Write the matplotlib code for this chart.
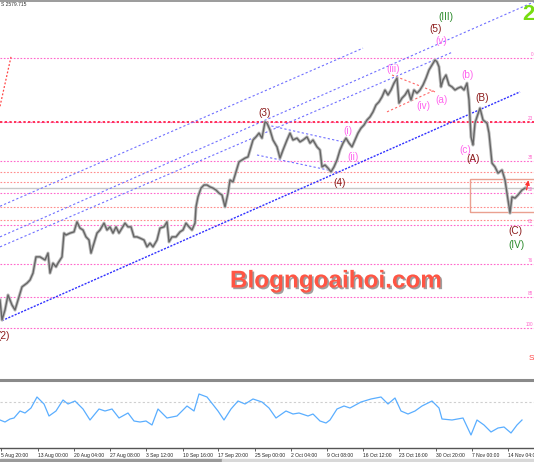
import matplotlib
matplotlib.use("Agg")
import matplotlib.pyplot as plt
import matplotlib.patheffects as pe
from matplotlib.patches import Rectangle
from matplotlib.lines import Line2D

# ---------------- data ----------------
bar = [0, 2, 5, 8, 12, 15, 18, 22, 27, 30, 33, 36, 40, 45, 48, 50, 53, 56, 58, 62,
       64, 66, 70, 74, 77, 80, 83, 86, 89, 91, 94, 97, 100, 104, 107, 110, 113, 116, 119, 122,
       125, 128, 131, 134, 137, 140, 144, 147, 150, 153, 157, 160, 164, 167, 169, 172, 176, 180, 183, 186,
       189, 192, 195, 196, 198, 201, 204, 207, 210, 213, 216, 219, 222, 225, 228, 230, 233, 236, 239, 242,
       245, 248, 250, 253, 256, 259, 262, 265, 267, 270, 273, 277, 280, 283, 287, 290, 293, 297, 300, 303,
       307, 310, 313, 317, 320, 322, 325, 328, 331, 334, 337, 340, 343, 346, 349, 352, 355, 358, 361, 364,
       367, 370, 373, 376, 379, 382, 385, 388, 391, 394, 397, 399, 402, 405, 408, 411, 414, 417, 420, 423,
       426, 429, 432, 435, 437, 439, 441, 443, 446, 449, 452, 455, 458, 461, 464, 467, 469, 471, 473, 475,
       477, 480, 483, 487, 489, 492, 495, 498, 502, 505, 507, 508, 510, 512, 515, 518, 522, 525]
close = [2406, 2374, 2390, 2414, 2398, 2390, 2406, 2427, 2433, 2438, 2449, 2475, 2475, 2470, 2481, 2449, 2465, 2459, 2465, 2475,
         2513, 2510, 2513, 2515, 2531, 2521, 2518, 2507, 2502, 2481, 2497, 2513, 2518, 2529, 2518, 2523, 2513, 2523, 2513, 2521,
         2529, 2523, 2523, 2507, 2507, 2505, 2502, 2491, 2497, 2491, 2502, 2521, 2523, 2531, 2499, 2507, 2507, 2515, 2518, 2529,
         2523, 2518, 2529, 2555, 2571, 2585, 2590, 2590, 2587, 2585, 2582, 2577, 2574, 2555, 2577, 2598, 2595, 2611, 2627, 2630,
         2633, 2635, 2646, 2662, 2667, 2673, 2665, 2691, 2689, 2678, 2662, 2651, 2633, 2646, 2662, 2673, 2662, 2665, 2659, 2662,
         2667, 2657, 2662, 2651, 2646, 2619, 2622, 2617, 2611, 2619, 2630, 2646, 2657, 2665, 2657, 2651, 2662, 2673, 2681, 2686,
         2694, 2699, 2707, 2718, 2723, 2731, 2742, 2734, 2742, 2753, 2761, 2721, 2729, 2734, 2742, 2726, 2742, 2737, 2742, 2750,
         2761, 2774, 2782, 2790, 2787, 2779, 2747, 2758, 2766, 2750, 2747, 2742, 2745, 2747, 2742, 2753, 2726, 2667, 2654, 2689,
         2699, 2713, 2694, 2689, 2673, 2625, 2619, 2609, 2614, 2598, 2577, 2566, 2545, 2571, 2569, 2574, 2582, 2585]

ind_bar = [0, 5, 10, 14, 20, 25, 31, 37, 44, 49, 56, 63, 68, 75, 83, 90, 99, 105, 112, 119,
           128, 134, 140, 146, 152, 158, 167, 177, 187, 194, 199, 207, 218, 224, 231, 238, 245, 253, 262, 269,
           276, 286, 293, 299, 308, 313, 320, 326, 330, 337, 344, 350, 361, 371, 381, 388, 395, 401, 408, 415,
           422, 432, 439, 442, 452, 463, 471, 477, 484, 491, 498, 504, 511, 517, 522]
ind_val = [32, 30, 33, 34, 41, 39, 44, 55, 48, 36, 41, 52, 48, 51, 43, 32, 43, 41, 43, 34,
           39, 31, 30, 31, 27, 43, 34, 36, 46, 41, 58, 55, 41, 32, 43, 51, 48, 53, 50, 44,
           34, 41, 38, 39, 36, 38, 31, 29, 32, 43, 46, 44, 50, 53, 55, 48, 54, 41, 38, 41,
           46, 51, 44, 33, 32, 34, 17, 32, 27, 20, 24, 25, 19, 27, 32]

time_tick_bars = [1, 38, 74, 110, 146, 183, 218, 255, 291, 327, 363, 399, 436, 472, 508]
time_labels = ["5 Aug 20:00", "13 Aug 00:00", "20 Aug 04:00", "27 Aug 08:00", "3 Sep 12:00",
               "10 Sep 16:00", "17 Sep 20:00", "25 Sep 00:00", "2 Oct 04:00", "9 Oct 08:00",
               "16 Oct 12:00", "23 Oct 16:00", "30 Oct 20:00", "7 Nov 00:00", "14 Nov 04:00"]

fib_high = 2793
fib_low = 2361
fib_pcts = [0, 23.6, 38.2, 50, 61.8, 76.4, 88.6, 100]
fib_tags = ["0", "23", "38", "50", "61", "76", "88", "100"]
sr_levels = [2611, 2595, 2555, 2534]
key_level = 2691
current_price = 2585
header = "S 2579.715"

box_bars = (470, 540)
box_prices = (2547, 2600)

# trend / channel lines: (bar0, price0, bar1, price1)
channel_lines = [(0, 2556, 363, 2809), (0, 2507, 534, 2883), (0, 2491, 453, 2803)]
base_line = (2, 2373, 520, 2739)
wedge_lines = [(267, 2686, 343, 2659), (257, 2638, 337, 2611)]
tri_lines = [(392, 2766, 435, 2739), (387, 2707, 435, 2742)]
red_line = (0, 2716, 11, 2795)

wave_labels = [
    ("(2)", 4, 2348, "#8b1a1a"), ("(3)", 265, 2705, "#8b1a1a"), ("(4)", 340, 2593, "#8b1a1a"),
    ("(5)", 436, 2840, "#8b1a1a"), ("(III)", 446, 2859, "#2a8a2a"), ("(v)", 441, 2820, "#ff66ee"),
    ("(iii)", 393, 2776, "#ff66ee"), ("(iv)", 423, 2716, "#ff66ee"), ("(a)", 442, 2726, "#ff66ee"),
    ("(b)", 468, 2766, "#ff66ee"), ("(B)", 482, 2729, "#8b1a1a"), ("(i)", 348, 2676, "#ff66ee"),
    ("(ii)", 353, 2635, "#ff66ee"), ("(c)", 465, 2646, "#ff66ee"), ("(A)", 473, 2632, "#8b1a1a"),
    ("(C)", 515, 2516, "#8b1a1a"), ("(IV)", 516, 2494, "#2a8a2a"),
]

# ---------------- figure ----------------
W, H = 534, 462
fig = plt.figure(figsize=(W / 100, H / 100), dpi=100)
fig.patch.set_facecolor("white")
plt.rcParams["font.family"] = ["Liberation Sans", "DejaVu Sans"]

ax = fig.add_axes([0, 83 / H, 1, 379 / H])
ax.set_xlim(0, 534)
ax.set_ylim(2886 - 1.6 * 379, 2886)
ax.axis("off")

# fib levels
for p, t in zip(fib_pcts, fib_tags):
    lv = fib_high - (fib_high - fib_low) * p / 100
    ax.axhline(lv, color="#ff66cc", lw=0.8, ls=(0, (1.5, 1.5)), zorder=1)
    ax.text(533, lv + 2, t, color="#ff66cc", fontsize=3.3, ha="right", va="bottom")
for lv in sr_levels:
    ax.axhline(lv, color="#ff8c8c", lw=0.8, ls=(0, (1.5, 1.5)), zorder=1)
ax.axhline(key_level, color="#ff3355", lw=1.4, ls=(0, (1.2, 1.2)), zorder=1)
ax.axhline(current_price, color="#c8c8c8", lw=1.0, zorder=1)

# box
ax.add_patch(Rectangle((box_bars[0], box_prices[0]), box_bars[1] - box_bars[0],
                       box_prices[1] - box_prices[0], fill=False, ec="#eaa090", lw=1.0, zorder=2))

for (x0, y0, x1, y1) in channel_lines:
    ax.plot([x0, x1], [y0, y1], color="#7070ff", lw=0.8, ls=(0, (2, 2)), zorder=2)
ax.plot([base_line[0], base_line[2]], [base_line[1], base_line[3]], color="#3030ff", lw=1.0,
        ls=(0, (1.5, 1)), zorder=2)
for (x0, y0, x1, y1) in wedge_lines:
    ax.plot([x0, x1], [y0, y1], color="#7070ff", lw=0.8, ls=(0, (2, 2)), zorder=2)
for (x0, y0, x1, y1) in tri_lines:
    ax.plot([x0, x1], [y0, y1], color="#ff6666", lw=0.8, ls=(0, (2, 2)), zorder=2)
ax.plot([red_line[0], red_line[2]], [red_line[1], red_line[3]], color="#ff4444", lw=0.9,
        ls=(0, (1.5, 1.5)), zorder=2)

# price
ax.plot(bar, close, color="#bdbdbd", lw=2.3, zorder=3)
ax.plot(bar, close, color="#666666", lw=1.0, zorder=4)

for t, xb, pr, c in wave_labels:
    ax.text(xb, pr, t, color=c, fontsize=7.2, ha="center", va="center", zorder=5)

ax.annotate("", xy=(529, 2602), xytext=(526, 2578),
            arrowprops=dict(arrowstyle="-|>", color="#ff3333", lw=1.0, mutation_scale=6), zorder=6)

# ---------------- indicator ----------------
ax2 = fig.add_axes([0, 14 / H, 1, 66 / H])
ax2.set_xlim(0, 534)
ax2.set_ylim(4, 70)
ax2.axhline(50, color="#cfcfcf", lw=0.8, ls=(0, (2, 2)))
ax2.plot(ind_bar, ind_val, color="#5aaeff", lw=0.9)
for s in ["top", "left", "right"]:
    ax2.spines[s].set_visible(False)
ax2.spines["bottom"].set_color("#555555")
ax2.spines["bottom"].set_linewidth(1.0)
ax2.set_yticks([])
ax2.set_xticks(time_tick_bars)
ax2.set_xticklabels(time_labels, ha="left", fontsize=3.6, color="#222222")
ax2.tick_params(axis="x", length=2, width=0.6, pad=1.5, color="#444444")
ax2.patch.set_alpha(0)

# ---------------- decorations ----------------
fig.add_artist(Line2D([0, 1], [1 - 380 / H, 1 - 380 / H], color="#8a8a8a", lw=2.2))
fig.add_artist(Line2D([0, 1], [1 - 0.5 / H, 1 - 0.5 / H], color="#8a8a8a", lw=1.2))
fig.add_artist(Rectangle((0, 0), 222 / W, 3 / H, transform=fig.transFigure, color="#9a9a9a"))
fig.add_artist(Rectangle((222 / W, 0), 1, 3 / H, transform=fig.transFigure, color="#d8d8d8"))

fig.text(1 / W, 1 - 5 / H, header, fontsize=3.6, color="#333333", ha="left", va="center")
fig.text(528 / W, 1 - 14 / H, "2", fontsize=16, color="#77dd11", weight="bold", ha="center", va="center")
fig.text(531 / W, 1 - 358 / H, "S", fontsize=6, color="#ff4444", ha="center", va="center")
fig.text(336 / W, 1 - 281 / H, "Blogngoaihoi.com", fontsize=17.5, weight="bold", color="#ff5544",
         ha="center", va="center",
         path_effects=[pe.withSimplePatchShadow(offset=(1.2, -1.2), shadow_rgbFace="#777777", alpha=0.7)])

fig.savefig("out.png", dpi=100)
